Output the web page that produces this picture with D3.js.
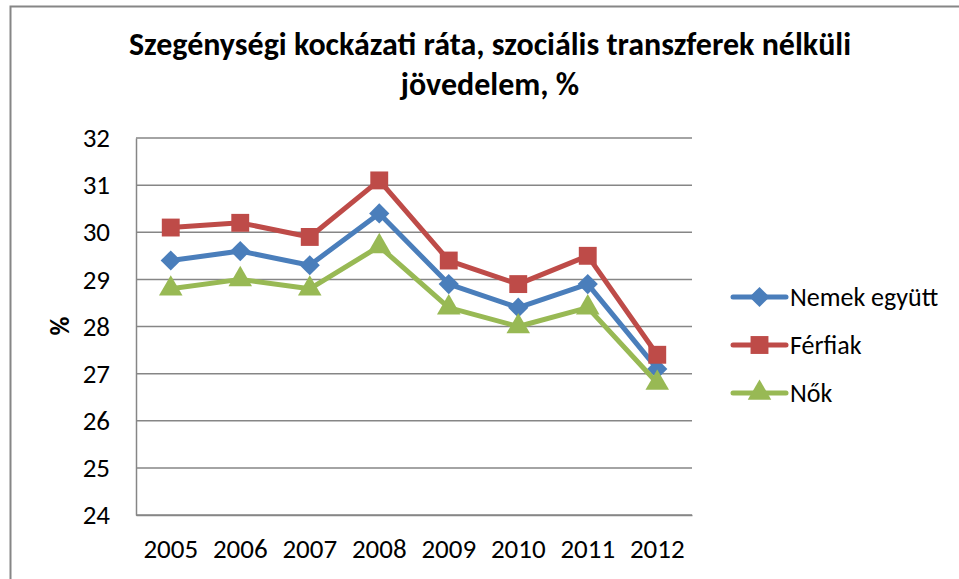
<!DOCTYPE html>
<html><head><meta charset="utf-8">
<script src="https://cdn.jsdelivr.net/npm/d3@7"></script>
<style>body{margin:0;background:#fff}svg{display:block}</style>
</head><body>
<svg id="c" width="959" height="579"></svg>
<script>
const years = ["2005","2006","2007","2008","2009","2010","2011","2012"];
const nemekEgyutt = [29.4, 29.6, 29.3, 30.4, 28.9, 28.4, 28.9, 27.1];
const ferfiak = [30.1, 30.2, 29.9, 31.1, 29.4, 28.9, 29.5, 27.4];
const nok = [28.8, 29.0, 28.8, 29.7, 28.4, 28.0, 28.4, 26.8];
const yTicks = [24, 25, 26, 27, 28, 29, 30, 31, 32];
const titleLines = ["Szegénységi kockázati ráta, szociális transzferek nélküli", "jövedelem, %"];
const yLabel = "%";

const series = [
  {name: "Nemek együtt", values: nemekEgyutt, color: "#4A7EBB", symbol: d3.symbolDiamond2, size: 260},
  {name: "Férfiak", values: ferfiak, color: "#BE4B48", symbol: d3.symbolSquare, size: 320},
  {name: "Nők", values: nok, color: "#98B954", symbol: d3.symbolTriangle, size: 240}
];

const svg = d3.select("#c");
const font = "Carlito, Lato, 'Open Sans', sans-serif";
const m = {left: 136, right: 692, top: 138, bottom: 515};

svg.append("rect").attr("x", 10.5).attr("y", 6.5).attr("width", 980).attr("height", 600)
  .attr("fill", "#fff").attr("stroke", "#868686").attr("stroke-width", 2);

const x = d3.scaleBand().domain(years).range([m.left, m.right]);
const y = d3.scaleLinear().domain([24, 32]).range([m.bottom, m.top]);

svg.append("g").selectAll("line").data(yTicks).join("line")
  .attr("x1", m.left).attr("x2", m.right)
  .attr("y1", d => y(d)).attr("y2", d => y(d))
  .attr("stroke", "#868686").attr("stroke-width", 1.5);

const ya = svg.append("g").attr("transform", `translate(${m.left},0)`)
  .call(d3.axisLeft(y).tickValues(yTicks).tickSize(0).tickPadding(26));
ya.select(".domain").attr("stroke", "#868686").attr("stroke-width", 1.5);
ya.selectAll("text").attr("font-family", font).attr("font-size", 27).attr("fill", "#000");

const xa = svg.append("g").attr("transform", `translate(0,${m.bottom})`)
  .call(d3.axisBottom(x).tickSize(0).tickPadding(24));
xa.select(".domain").attr("stroke", "#868686").attr("stroke-width", 1.5);
xa.selectAll("text").attr("font-family", font).attr("font-size", 27).attr("fill", "#000");

svg.append("g").selectAll("text").data(titleLines).join("text")
  .attr("x", 490).attr("y", (d, i) => 55 + i * 40)
  .attr("text-anchor", "middle")
  .attr("font-family", font).attr("font-weight", "bold").attr("font-size", 32)
  .text(d => d);

svg.append("text").attr("transform", "translate(69,326) rotate(-90)")
  .attr("text-anchor", "middle").attr("font-family", font).attr("font-weight", "bold")
  .attr("font-size", 26).text(yLabel);

const line = d3.line().x((d, i) => x(years[i]) + x.bandwidth() / 2).y(d => y(d));
series.forEach(s => {
  const g = svg.append("g");
  g.append("path").datum(s.values).attr("d", line).attr("fill", "none")
    .attr("stroke", s.color).attr("stroke-width", 5).attr("stroke-linejoin", "round");
  g.selectAll("path.m").data(s.values).join("path").attr("class", "m")
    .attr("transform", (d, i) => `translate(${x(years[i]) + x.bandwidth() / 2},${y(d)})`)
    .attr("d", d3.symbol().type(s.symbol).size(s.size)).attr("fill", s.color);
});

const lg = svg.append("g");
series.forEach((s, i) => {
  const ly = 297 + i * 48;
  lg.append("line").attr("x1", 733).attr("x2", 786).attr("y1", ly).attr("y2", ly)
    .attr("stroke", s.color).attr("stroke-width", 5).attr("stroke-linecap", "round");
  lg.append("path").attr("transform", `translate(759.5,${ly})`)
    .attr("d", d3.symbol().type(s.symbol).size(s.size)).attr("fill", s.color);
  lg.append("text").attr("x", 790).attr("y", ly + 9).attr("font-family", font)
    .attr("font-size", 26).text(s.name);
});
</script>
</body></html>
